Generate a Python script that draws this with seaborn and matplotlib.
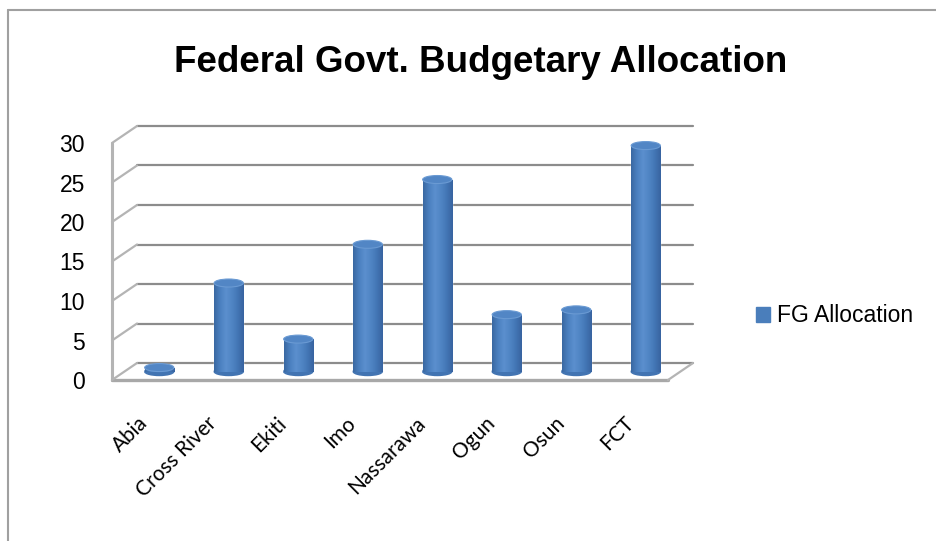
import numpy as np
import seaborn as sns
import matplotlib.pyplot as plt
from matplotlib.transforms import offset_copy, ScaledTranslation
from matplotlib.patches import ConnectionPatch, Ellipse, Patch
from matplotlib.lines import Line2D
from matplotlib.colors import LinearSegmentedColormap

states = ["Abia", "Cross River", "Ekiti", "Imo", "Nassarawa", "Ogun", "Osun", "FCT"]
allocation = [0.5, 11.2, 4.1, 16.1, 24.3, 7.2, 7.8, 28.6]
y_ticks = [0, 5, 10, 15, 20, 25, 30]
series_name = "FG Allocation"
title = "Federal Govt. Budgetary Allocation"

BLUE = "#4a7ebb"
W, H = 937, 541

sns.set_style("white")
plt.rcParams["font.family"] = ["Liberation Sans", "DejaVu Sans"]
plt.rcParams["text.color"] = "black"
plt.rcParams["xtick.color"] = "black"
plt.rcParams["ytick.color"] = "black"

fig = plt.figure(figsize=(W / 100, H / 100), dpi=100)
# axes = middle plane of the 3D box (where the cylinders stand)
ax = fig.add_axes([124.5 / W, 1 - 371.5 / H, 556 / W, 237 / H])
ax.set_facecolor("none")
sns.barplot(x=states, y=allocation, color=BLUE, saturation=1, width=0.42,
            ax=ax, zorder=3)
for s in ax.spines.values():
    s.set_visible(False)

# back wall and front edge of the fake 3D box
back = offset_copy(ax.transData, fig=fig, x=12.5, y=8.5, units="dots")
front = offset_copy(ax.transData, fig=fig, x=-12.5, y=-8.5, units="dots")
for v in y_ticks:
    ax.plot([-0.5, 7.5], [v, v], transform=back, color="#8c8c8c", lw=1.6,
            clip_on=False, zorder=1)
    fig.add_artist(ConnectionPatch(xyA=(-0.5, v), coordsA=front, xyB=(-0.5, v),
                                   coordsB=back, color="#b4b4b4", lw=1.6))
ax.plot([-0.5, -0.5], [0, 30], transform=front, color="#b4b4b4", lw=2.2,
        clip_on=False, zorder=2)
ax.plot([-0.5, 7.5], [0, 0], transform=front, color="#a8a8a8", lw=2.4,
        clip_on=False, zorder=2)
fig.add_artist(ConnectionPatch(xyA=(7.5, 0), coordsA=front, xyB=(7.5, 0),
                               coordsB=back, color="#b4b4b4", lw=1.6))

# cylinder shading
cyl = LinearSegmentedColormap.from_list(
    "cyl", ["#3a68a2", "#4b80c0", "#5b8fce", "#5085c4", "#4376b5", "#3864a0"])
grad = np.linspace(0, 1, 64)[np.newaxis, :]
px_per_unit = ax.transData.transform((0, 1))[1] - ax.transData.transform((0, 0))[1]
ell_h = 8 / px_per_unit
for p in list(ax.patches):
    x0, w, h = p.get_x(), p.get_width(), p.get_height()
    cx = x0 + w / 2
    im = ax.imshow(grad, extent=(x0, x0 + w, 0, h), cmap=cyl, aspect="auto",
                   zorder=3.5)
    im.set_clip_path(p)
    ax.add_patch(Ellipse((cx, 0), w, ell_h, color="#4274b2", zorder=2.9,
                         clip_on=False))
    ax.add_patch(Ellipse((cx, h), w, ell_h, facecolor="#5286c5",
                         edgecolor="#6a9ad3", lw=0.8, zorder=4, clip_on=False))
ax.set_xlim(-0.5, 7.5)
ax.set_ylim(0, 30)

# y labels sit on the front plane
ax.set_yticks(y_ticks)
ax.set_yticklabels([str(v) for v in y_ticks], fontsize=16.5)
ax.tick_params(axis="y", length=0, pad=19.5)
for lbl in ax.get_yticklabels():
    lbl.set_transform(lbl.get_transform() + ScaledTranslation(-12.5 / 100, -8.5 / 100, fig.dpi_scale_trans))
ax.set_xticks(range(len(states)))
ax.set_xticklabels(states, rotation=45, ha="right", va="center",
                   rotation_mode="anchor", fontsize=15, family=["Lato", "DejaVu Sans"])
ax.tick_params(axis="x", length=0, pad=35)
for lbl in ax.get_xticklabels():
    lbl.set_transform(lbl.get_transform() + ScaledTranslation(-15 / 100, 0, fig.dpi_scale_trans))
ax.set_xlabel("")
ax.set_ylabel("")

fig.text(481 / W, 1 - 63 / H, title, ha="center", va="center", fontsize=26.5,
         fontweight="bold")

fig.legend(handles=[Patch(color=BLUE)], labels=[series_name], loc="center left",
           bbox_to_anchor=(756 / W, 1 - 316 / H), frameon=False, fontsize=16.5,
           handlelength=0.62, handleheight=0.62, handletextpad=0.3,
           borderpad=0, borderaxespad=0)

# chart area border (cut off on right and bottom)
fig.add_artist(Line2D([8 / W, 1], [1 - 10 / H, 1 - 10 / H], transform=fig.transFigure,
                      color="#a0a0a0", lw=1.5))
fig.add_artist(Line2D([8 / W, 8 / W], [0, 1 - 10 / H], transform=fig.transFigure,
                      color="#a0a0a0", lw=1.5))

fig.savefig("out.png", dpi=100)
